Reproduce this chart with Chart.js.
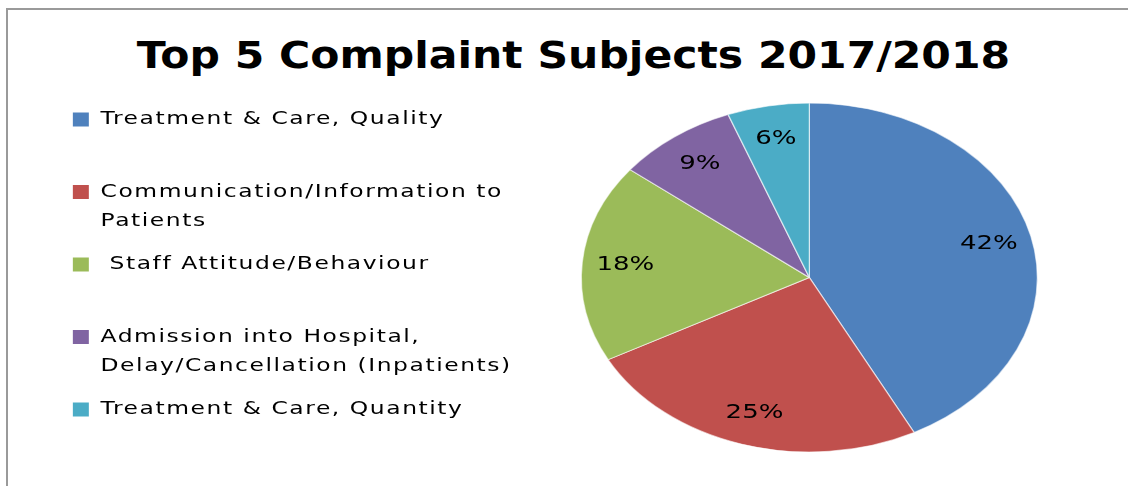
<!DOCTYPE html>
<html><head><meta charset="utf-8">
<script src="https://cdn.jsdelivr.net/npm/chart.js@4"></script>
<style>
html,body{margin:0;padding:0;background:#fff;width:1128px;height:486px;overflow:hidden;position:relative;}
#frame{position:absolute;left:6px;top:8px;width:1300px;height:600px;border-top:2px solid #9a9a9a;border-left:2px solid #9a9a9a;}
#title{position:absolute;left:0;top:37px;width:1147px;text-align:center;font-family:"DejaVu Sans",sans-serif;font-weight:bold;font-size:37.5px;line-height:37.5px;color:#000;white-space:nowrap;transform:scaleX(1.134);transform-origin:573.5px 0;}
canvas{position:absolute;left:0;top:0;}
</style></head><body>
<div id="frame"></div>
<div id="title"></div>
<canvas id="c" width="1128" height="486"></canvas>
<script>
const TITLE = 'Top 5 Complaint Subjects 2017/2018';
const categories = [
  ['Treatment & Care, Quality', ''],
  ['Communication/Information to', 'Patients'],
  [' Staff Attitude/Behaviour', ''],
  ['Admission into Hospital,', 'Delay/Cancellation (Inpatients)'],
  'Treatment & Care, Quantity'
];
const values = [42.4, 24.8, 18.4, 8.6, 5.8];
const colors = ['#4F81BD', '#C0504D', '#9BBB59', '#8064A2', '#4BACC6'];

const STRETCH_X = 1.3066;     // pie drawn as an ellipse
const TEXT_STRETCH = 1.3;     // wide lettering of legend and labels
const LEGEND_SPACING = '1.2px';
const LABEL_POS = 0.81;

document.getElementById('title').textContent = TITLE;

const ellipsePlugin = {
  id: 'ellipsePie',
  afterInit(chart) {
    const lg = chart.legend;
    if (lg && !lg._stretched) {
      const fit = lg.fit.bind(lg), draw = lg.draw.bind(lg);
      lg.fit = function () { fit(); this.width *= TEXT_STRETCH; };
      lg.draw = function () {
        const c = this.ctx;
        c.save();
        c.letterSpacing = LEGEND_SPACING;
        c.translate(this.left, 0);
        c.scale(TEXT_STRETCH, 1);
        c.translate(-this.left, 0);
        draw();
        c.restore();
      };
      lg._stretched = true;
    }
  },
  beforeLayout(chart) { chart.ctx.letterSpacing = LEGEND_SPACING; },
  beforeDatasetsDraw(chart) {
    const a = chart.getDatasetMeta(0).data[0];
    const ctx = chart.ctx;
    ctx.save();
    ctx.translate(a.x, a.y);
    ctx.scale(STRETCH_X, 1);
    ctx.translate(-a.x, -a.y);
  },
  afterDatasetsDraw(chart) {
    const ctx = chart.ctx;
    ctx.restore();
    const meta = chart.getDatasetMeta(0);
    const total = values.reduce((s, v) => s + v, 0);
    meta.data.forEach((arc, i) => {
      const p = arc.getProps(['x', 'y', 'startAngle', 'endAngle', 'outerRadius'], true);
      const mid = (p.startAngle + p.endAngle) / 2;
      const r = p.outerRadius * LABEL_POS;
      const txt = Math.round(values[i] / total * 100) + '%';
      ctx.save();
      ctx.font = '20px "DejaVu Sans", sans-serif';
      ctx.letterSpacing = '0px';
      ctx.fillStyle = '#000';
      ctx.textAlign = 'center';
      ctx.textBaseline = 'middle';
      ctx.translate(p.x + Math.cos(mid) * r * STRETCH_X, p.y + Math.sin(mid) * r);
      ctx.scale(TEXT_STRETCH, 1);
      ctx.fillText(txt, 0, 0);
      ctx.restore();
    });
  }
};

new Chart(document.getElementById('c'), {
  type: 'pie',
  data: {
    labels: categories,
    datasets: [{
      data: values,
      backgroundColor: colors,
      borderColor: 'rgba(255,255,255,0.6)',
      borderWidth: 1,
      radius: 174.5,
      clip: false
    }]
  },
  options: {
    responsive: false,
    animation: false,
    events: [],
    layout: { padding: { left: 54, top: 96, right: 34, bottom: 27 } },
    plugins: {
      tooltip: { enabled: false },
      title: { display: false },
      legend: {
        position: 'left',
        align: 'start',
        fullSize: false,
        labels: {
          boxWidth: 12.3,
          boxHeight: 14,
          padding: 14.5,
          color: '#000',
          font: { family: "'DejaVu Sans', sans-serif", size: 18, lineHeight: 29 / 18 },
          generateLabels(chart) {
            return Chart.overrides.pie.plugins.legend.labels.generateLabels(chart)
              .map(l => Object.assign(l, { lineWidth: 0 }));
          }
        }
      }
    }
  },
  plugins: [ellipsePlugin]
});
</script>
</body></html>
